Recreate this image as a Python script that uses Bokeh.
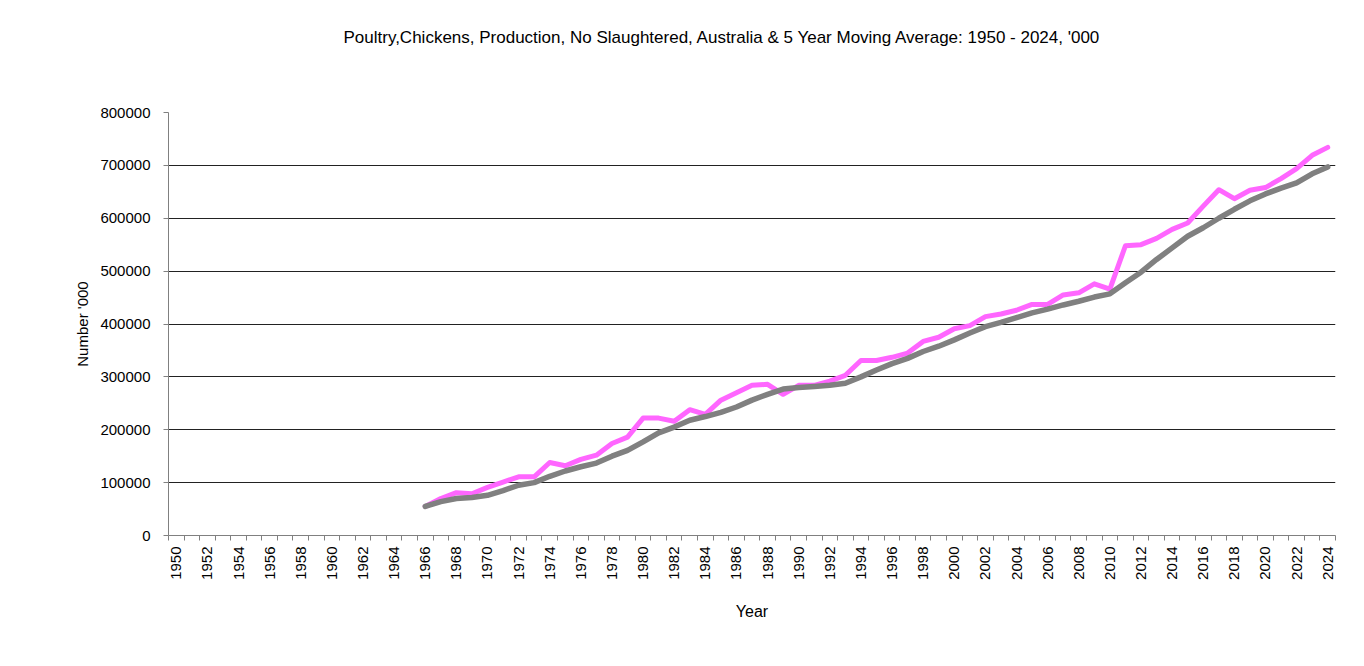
import math
from bokeh.plotting import figure
from bokeh.models import FixedTicker, Range1d, BasicTickFormatter, ColumnDataSource, Title
from bokeh.embed import file_html
from bokeh.resources import INLINE

title_text = "Poultry,Chickens, Production, No Slaughtered,  Australia & 5 Year Moving Average: 1950 - 2024, '000"
x_label = "Year"
y_label = "Number '000"

first_year = 1950
last_year = 2024
years = list(range(1966, 2025))
actual = [55000, 70000, 81000, 79000, 91000, 101000, 111000, 111000, 138000, 132000,
          144000, 152000, 174000, 186000, 222000, 222000, 216000, 238000, 229000, 256000,
          270000, 284000, 286000, 267000, 284000, 284000, 292000, 303000, 331000, 331000,
          337000, 345000, 367000, 375000, 391000, 397000, 414000, 419000, 426000, 437000,
          437000, 455000, 459000, 476000, 466000, 548000, 550000, 562000, 579000, 591000,
          623000, 654000, 637000, 653000, 658000, 675000, 694000, 719000, 734000]
moving_avg = [55000, 64000, 70000, 72000, 76000, 85000, 95000, 100000, 112000, 122000,
              130000, 137000, 150000, 161000, 177000, 194000, 205000, 218000, 225000, 233000,
              243000, 256000, 267000, 277000, 280000, 282000, 284000, 288000, 300000, 313000,
              325000, 335000, 348000, 358000, 370000, 383000, 395000, 403000, 412000, 421000,
              428000, 436000, 443000, 451000, 457000, 478000, 498000, 522000, 544000, 566000,
              582000, 600000, 617000, 633000, 646000, 657000, 667000, 684000, 697000]
y_ticks = [0, 100000, 200000, 300000, 400000, 500000, 600000, 700000, 800000]
x_tick_years = list(range(1950, 2025, 2))

FONT = "Liberation Sans"

src = ColumnDataSource(data=dict(year=years, actual=actual, ma=moving_avg))

p = figure(width=1358, height=645, output_backend="svg", toolbar_location=None,
           x_range=Range1d(first_year - 0.5, last_year + 0.5),
           y_range=Range1d(0, 800000),
           min_border_left=168, min_border_right=23, min_border_top=112, min_border_bottom=110)

p.title.text = title_text
p.title.align = "left"
p.title.offset = 175
p.title.vertical_align = "top"
p.title.standoff = 54
p.title.text_font = FONT
p.title.text_font_size = "17px"
p.title.text_font_style = "normal"
p.title.text_color = "black"

# spacer panel between the title and the frame
spacer = Title(text=" ", text_font_size="1px", standoff=34)
p.add_layout(spacer, "above")

p.outline_line_color = None
p.background_fill_color = "white"
p.border_fill_color = "white"

p.line("year", "actual", source=src, line_color="#FF66FF", line_width=5,
       line_join="round", line_cap="round")
p.line("year", "ma", source=src, line_color="#808080", line_width=5.5,
       line_join="round", line_cap="round")

# x axis
p.xaxis.ticker = FixedTicker(ticks=x_tick_years,
                             minor_ticks=[y - 0.5 for y in range(first_year, last_year + 2)])
p.xaxis.major_tick_out = 0
p.xaxis.major_tick_in = 0
p.xaxis.minor_tick_out = 5
p.xaxis.minor_tick_in = 0
p.xaxis.minor_tick_line_color = "#808080"
p.xaxis.axis_line_color = "#808080"
p.xaxis.major_label_orientation = math.pi / 2
p.xaxis.major_label_standoff = 6
p.xaxis.major_label_text_font = FONT
p.xaxis.major_label_text_font_size = "15px"
p.xaxis.major_label_text_color = "black"
p.xaxis.axis_label = x_label
p.xaxis.axis_label_text_font = FONT
p.xaxis.axis_label_text_font_size = "16px"
p.xaxis.axis_label_text_font_style = "normal"
p.xaxis.axis_label_text_color = "black"
p.xaxis.axis_label_standoff = 20

# y axis
p.yaxis.ticker = FixedTicker(ticks=y_ticks)
p.yaxis.formatter = BasicTickFormatter(use_scientific=False)
p.yaxis.major_tick_out = 5
p.yaxis.major_tick_in = 0
p.yaxis.minor_tick_out = 0
p.yaxis.minor_tick_in = 0
p.yaxis.major_tick_line_color = "#808080"
p.yaxis.axis_line_color = "#808080"
p.yaxis.major_label_standoff = 13
p.yaxis.major_label_text_font = FONT
p.yaxis.major_label_text_font_size = "15px"
p.yaxis.major_label_text_color = "black"
p.yaxis.axis_label = y_label
p.yaxis.axis_label_text_font = FONT
p.yaxis.axis_label_text_font_size = "15px"
p.yaxis.axis_label_text_font_style = "normal"
p.yaxis.axis_label_text_color = "black"
p.yaxis.axis_label_standoff = 6

p.xgrid.visible = False
p.ygrid.ticker = FixedTicker(ticks=y_ticks[1:-1])
p.ygrid.grid_line_color = "#222222"
p.ygrid.grid_line_width = 1

open("out.html", "w").write(file_html(p, INLINE))
